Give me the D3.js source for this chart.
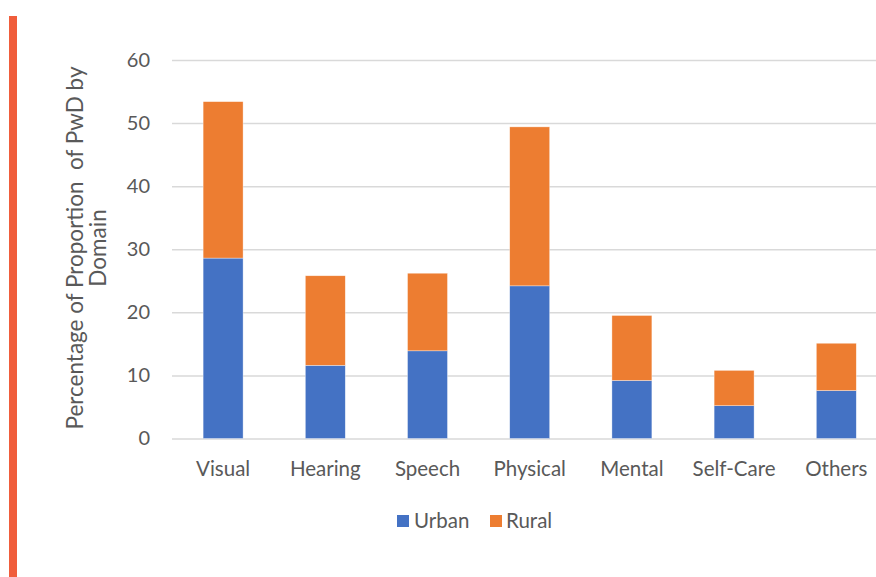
<!DOCTYPE html>
<html>
<head>
<meta charset="utf-8">
<script src="https://cdn.jsdelivr.net/npm/d3@7"></script>
<style>
  html, body { margin: 0; padding: 0; background: #fff; }
  svg { display: block; font-family: "Lato", "Open Sans", sans-serif; }
</style>
</head>
<body>
<svg id="chart" width="876" height="577"></svg>
<script>
// Domains of disability
const categories = ["Visual", "Hearing", "Speech", "Physical", "Mental", "Self-Care", "Others"];
// Percentage of PwD by domain, split by residence
const urbanValues = [28.6, 11.6, 13.9, 24.2, 9.2, 5.2, 7.6];
const ruralValues = [24.8, 14.2, 12.3, 25.2, 10.3, 5.6, 7.5];
const seriesNames = ["Urban", "Rural"];
const yTicks = [0, 10, 20, 30, 40, 50, 60];
const yTitleLines = ["Percentage of Proportion  of PwD by", "Domain"];

const colors = { Urban: "#4472C4", Rural: "#ED7D31" };
const textColor = "#595959";

const svg = d3.select("#chart");

// accent stripe on the left edge
svg.append("rect")
  .attr("x", 9).attr("y", 16).attr("width", 8).attr("height", 561)
  .attr("fill", "#F05D3B");

const x = d3.scaleBand()
  .domain(categories)
  .range([172, 887.4])
  .paddingInner(0.609)
  .paddingOuter(0.3045);

const y = d3.scaleLinear()
  .domain([0, 60])
  .range([438.5, 60]);

// gridlines
const grid = svg.append("g")
  .attr("transform", "translate(172,0)")
  .call(d3.axisLeft(y).tickValues(yTicks).tickSize(-(876 - 172)).tickFormat(""));
grid.select(".domain").remove();
grid.selectAll(".tick line").attr("stroke", "#d9d9d9").attr("stroke-width", 1.5);

// y tick labels
const yAxis = svg.append("g")
  .attr("transform", "translate(150,0)")
  .call(d3.axisLeft(y).tickValues(yTicks).tickSize(0).tickPadding(0));
yAxis.select(".domain").remove();
yAxis.selectAll("text")
  .attr("fill", textColor)
  .style("font-size", "20px")
  .style("font-family", "Lato, 'Open Sans', sans-serif");

// stacked bars
const rows = categories.map((c, i) => ({ category: c, Urban: urbanValues[i], Rural: ruralValues[i] }));
const stacked = d3.stack().keys(seriesNames)(rows);

svg.append("g").selectAll("g")
  .data(stacked)
  .join("g")
  .attr("fill", d => colors[d.key])
  .selectAll("rect")
  .data(d => d)
  .join("rect")
  .attr("x", d => x(d.data.category))
  .attr("width", x.bandwidth())
  .attr("y", d => y(d[1]))
  .attr("height", d => y(d[0]) - y(d[1]))
  .attr("stroke", "#ffffff")
  .attr("stroke-opacity", 0.6)
  .attr("stroke-width", 0.6);

// category labels
const xAxis = svg.append("g")
  .attr("transform", "translate(0,461)")
  .call(d3.axisBottom(x).tickSize(0).tickPadding(0));
xAxis.select(".domain").remove();
xAxis.selectAll("text")
  .attr("fill", textColor)
  .attr("dy", "0.71em")
  .style("font-size", "20.5px")
  .style("font-family", "Lato, 'Open Sans', sans-serif");

// y-axis title
const yTitle = svg.append("text")
  .attr("transform", "translate(0,248) rotate(-90)")
  .attr("text-anchor", "middle")
  .attr("fill", textColor)
  .attr("xml:space", "preserve")
  .style("white-space", "pre")
  .style("font-size", "22.5px");
yTitle.selectAll("tspan")
  .data(yTitleLines)
  .join("tspan")
  .attr("x", 0)
  .attr("y", (d, i) => 83 + i * 23)
  .text(d => d);

// legend
const legendItems = [
  { name: "Urban", sx: 397, tx: 414 },
  { name: "Rural", sx: 490, tx: 506 }
];
const legend = svg.append("g");
legend.selectAll("rect")
  .data(legendItems)
  .join("rect")
  .attr("x", d => d.sx).attr("y", 515)
  .attr("width", 12).attr("height", 12)
  .attr("fill", d => colors[d.name]);
legend.selectAll("text")
  .data(legendItems)
  .join("text")
  .attr("x", d => d.tx).attr("y", 528)
  .attr("fill", textColor)
  .style("font-size", "20.5px")
  .text(d => d.name);
</script>
</body>
</html>
